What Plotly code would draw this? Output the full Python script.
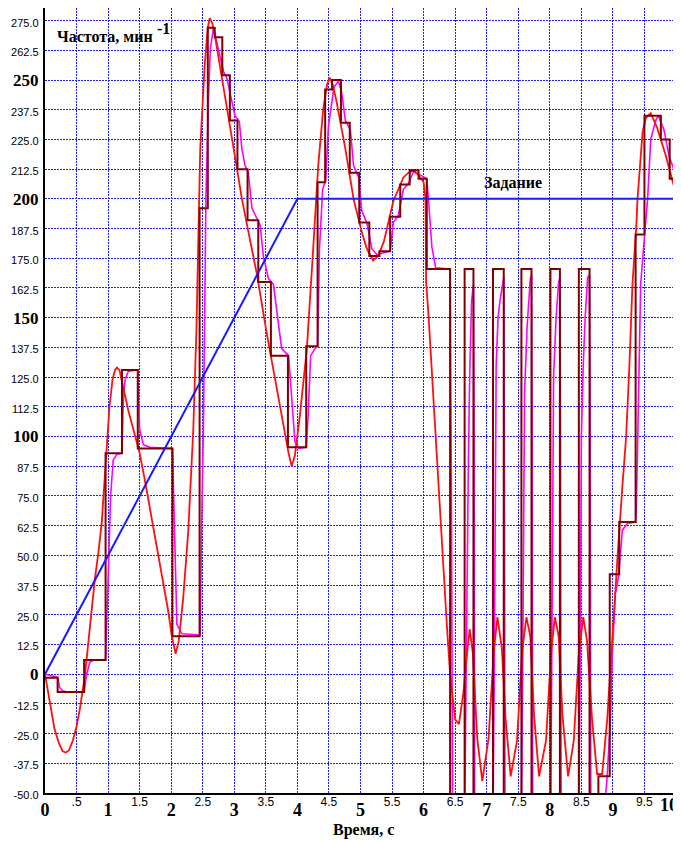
import plotly.graph_objects as go

# ---------------- data ----------------
# set-point ("Задание")
setpoint_t = [0, 4, 10]
setpoint_v = [0, 200, 200]

# fast response (red)
red_t = [0, 0.04, 0.09, 0.15, 0.22, 0.28, 0.33, 0.38, 0.44, 0.50, 0.55, 0.60, 0.63, 0.67, 0.71, 0.79,
         0.85, 0.90, 0.94, 0.97, 1.02, 1.07, 1.11, 1.14, 1.18, 1.23, 1.32, 1.41, 1.50, 1.58, 1.66,
         1.74, 1.82, 1.89, 1.95, 2.01, 2.07, 2.12, 2.19, 2.27, 2.32, 2.35, 2.40, 2.46, 2.53, 2.58,
         2.61, 2.65, 2.69, 2.80, 2.90, 3.01, 3.12, 3.25, 3.36, 3.51, 3.65, 3.78, 3.86, 3.91, 3.96,
         4.04, 4.15, 4.25, 4.33, 4.41, 4.47, 4.51, 4.56, 4.62, 4.76, 4.89, 5.02, 5.10, 5.20, 5.28,
         5.37, 5.52, 5.68, 5.76, 5.84, 5.92, 6.00, 6.03, 6.04, 6.08, 6.12, 6.16, 6.21, 6.27, 6.32,
         6.37, 6.42, 6.50, 6.56, 6.63, 6.69, 6.73, 6.78, 6.85, 6.93, 7.03, 7.11, 7.17, 7.24, 7.30,
         7.38, 7.48, 7.56, 7.63, 7.69, 7.75, 7.83, 7.94, 8.02, 8.08, 8.14, 8.20, 8.29, 8.38, 8.46,
         8.53, 8.59, 8.67, 8.75, 8.83, 8.91, 8.99, 9.07, 9.15, 9.21, 9.26, 9.31, 9.37, 9.39, 9.47,
         9.52, 9.60, 9.70, 9.84, 9.97, 10.0]
red_v = [0, -6, -15, -23, -29, -32.5, -33, -32, -28, -22, -15, -6, -1, 9, 20, 40,
         52, 64, 80, 93, 112, 124, 128, 129, 128, 122, 111, 102, 93, 82, 70,
         58, 46, 36, 27, 16, 8.6, 14, 32, 60, 85, 103, 145, 221, 256, 272,
         276, 274, 269, 252, 235, 218, 200, 182, 168, 144, 123, 105, 93, 87.5, 92,
         109, 137, 179, 214, 238, 248, 251, 248, 241, 221, 200, 186, 179, 174, 176,
         182, 199, 209, 211, 212, 210, 207, 200, 165, 150, 132, 110, 90, 61, 40,
         20, 0, -19, -21, -8, 9, 19, 9, -27, -45, -27, 9, 24, 11, -19,
         -43, -28, 9, 24, 16, -17, -43, -28, 9, 24, 16, -17, -43, -28, 9,
         24, 14, -19, -42, -42, -19, 16, 48, 79, 100, 129, 164, 188, 200, 228,
         234, 236, 230, 218, 205, 202]

# sampled (held) signal (dark red steps)
step_t = [0, 0.20, 0.62, 0.96, 1.22, 1.47, 2.02, 2.45, 2.58, 2.69, 2.81, 2.93, 3.05, 3.21, 3.38,
          3.58, 3.85, 4.14, 4.32, 4.44, 4.55, 4.69, 4.83, 4.98, 5.14, 5.30, 5.47, 5.63, 5.78,
          5.92, 6.05, 6.42, 6.65, 6.79, 7.10, 7.27, 7.55, 7.71, 8.01, 8.16, 8.46, 8.63, 8.77,
          8.95, 9.10, 9.36, 9.50, 9.76, 9.90, 10.0]
step_v = [-1.5, -7.5, 6, 93, 128, 95, 16, 196, 272, 268, 252, 233, 212.5, 191, 165,
          134, 95.5, 138, 207, 246, 250, 232, 211, 190, 176, 178, 192.5, 206, 212,
          208.5, 170.5, -60, 170.5, -60, 170.5, -60, 170.5, -60, 170.5, -60, 170.5, -60, -43,
          42, 64, 185, 235, 225, 208.5, 208.5]

# lagged response (magenta)
mag_t = [0, 0.20, 0.23, 0.28, 0.35, 0.62, 0.66, 0.71, 0.78, 0.96, 1.00, 1.04, 1.08, 1.14, 1.22,
         1.24, 1.27, 1.32, 1.47, 1.50, 1.56, 1.66, 2.02, 2.06, 2.09, 2.17, 2.46, 2.48, 2.51,
         2.53, 2.55, 2.59, 2.62, 2.67, 2.75, 2.83, 2.88, 2.94, 3.01, 3.08, 3.12, 3.17, 3.22,
         3.28, 3.36, 3.41, 3.46, 3.54, 3.62, 3.68, 3.75, 3.86, 3.91, 3.96, 4.02, 4.14, 4.17,
         4.21, 4.28, 4.32, 4.35, 4.40, 4.45, 4.49, 4.52, 4.58, 4.65, 4.70, 4.76, 4.84, 4.89,
         4.97, 5.02, 5.10, 5.18, 5.26, 5.47, 5.52, 5.60, 5.68, 5.76, 5.84, 5.95, 6.05, 6.08,
         6.13, 6.19, 6.42, 6.44, 6.46,
         6.65, 6.67, 6.69, 6.70, 6.71, 6.73, 6.76, 6.79, 6.80, 6.81,
         7.10, 7.12, 7.13, 7.14, 7.15, 7.18, 7.21, 7.27, 7.28, 7.29,
         7.55, 7.57, 7.58, 7.59, 7.60, 7.64, 7.69, 7.71, 7.72, 7.73,
         8.01, 8.03, 8.04, 8.05, 8.06, 8.10, 8.14, 8.16, 8.17, 8.18,
         8.46, 8.48, 8.49, 8.50, 8.53, 8.56, 8.60, 8.63, 8.64, 8.65,
         8.86, 8.91, 8.96, 8.99, 9.04, 9.09, 9.15, 9.23, 9.36, 9.37, 9.39, 9.44, 9.50, 9.55,
         9.60, 9.68, 9.72, 9.81, 9.89, 9.97, 10.0]
mag_v = [0, -1.3, -5.5, -7, -7.5, -7.5, 0, 5, 6, 6, 40, 75, 90, 92.5, 93,
         115, 124, 127.5, 128, 103, 96.5, 95.5, 95, 46, 21, 17, 16.5, 60, 103,
         150, 200, 242, 263, 272, 263, 253.5, 251, 244, 235, 232.5, 221, 214, 211.5,
         196, 192, 189, 176, 166.5, 164, 151, 137, 134, 116, 98, 95, 95.5, 109,
         134, 137, 138, 179, 204, 208, 230, 236, 247, 249.5, 245, 233, 229, 214,
         209, 195, 190, 179, 176.5, 178, 190, 193, 204, 206.5, 211.5, 210, 208.5, 199,
         180, 171, 170.5, 80, -60,
         -60, 0, 30, 60, 90, 125, 157, 164, 100, -60,
         -60, 0, 40, 90, 130, 150, 157, 167, 100, -60,
         -60, 0, 60, 100, 118, 146, 166, 168, 100, -60,
         -60, 0, 60, 100, 125, 150, 165, 167, 100, -60,
         -60, 0, 60, 100, 130, 150, 167, 168, 100, -60,
         -60, -42.6, -19.4, 8.6, 34, 41, 60.6, 63.4, 64, 69, 94, 164, 184, 200,
         225, 233, 235, 229, 218, 212, 211]

# ticks
x_grid_vals = [i * 0.5 for i in range(21)]
x_big_vals = [0, 1, 2, 3, 4, 5, 6, 7, 8, 9]
x_big_text = ["0", "1", "2", "3", "4", "5", "6", "7", "8", "9"]
x_end_vals = [10]
x_end_text = ["10"]
x_small_vals = [0.5, 1.5, 2.5, 3.5, 4.5, 5.5, 6.5, 7.5, 8.5, 9.5]
x_small_text = [".5", "1.5", "2.5", "3.5", "4.5", "5.5", "6.5", "7.5", "8.5", "9.5"]
y_tick_vals = [-50 + 12.5 * i for i in range(27)]
y_tick_labels = ["-50.0", "-37.5", "-25.0", "-12.5", "0", "12.5", "25.0", "37.5", "50.0",
                 "62.5", "75.0", "87.5", "100", "112.5", "125.0", "137.5", "150", "162.5",
                 "175.0", "187.5", "200", "212.5", "225.0", "237.5", "250", "262.5", "275.0"]
y_bold_labels = ["0", "100", "150", "200", "250"]

# ---------------- styling ----------------
SMALL_Y = "font-family:'Liberation Sans';font-size:11px;font-weight:normal"

y_text = [("<b>" + s + "</b>") if s in y_bold_labels
          else "<span style=\"%s\">%s</span>" % (SMALL_Y, s) for s in y_tick_labels]

big_map = {v: "<b>" + s + "</b>" for v, s in zip(x_big_vals, x_big_text)}
x_main_text = [big_map.get(v, "") for v in x_grid_vals]

fig = go.Figure()
# magenta and red on the main axes, steps on x2 (small half-second labels),
# set-point on x3 (end label "10") -> same ranges, so identical placement
fig.add_trace(go.Scatter(x=mag_t, y=mag_v, mode="lines",
                         line=dict(color="#ff00ff", width=1.6), hoverinfo="skip"))
fig.add_trace(go.Scatter(x=red_t, y=red_v, mode="lines",
                         line=dict(color="#ff1010", width=1.8), hoverinfo="skip"))
fig.add_trace(go.Scatter(x=step_t, y=step_v, mode="lines", line_shape="hv", xaxis="x2",
                         line=dict(color="#800000", width=2), hoverinfo="skip"))
fig.add_trace(go.Scatter(x=setpoint_t, y=setpoint_v, mode="lines", xaxis="x3",
                         line=dict(color="#1a1aff", width=2), hoverinfo="skip"))

# the page body has an 8px margin, so the figure is sized/offset to compensate
GRID = "rgb(30,30,255)"
BIG_FONT = dict(family="Liberation Serif", size=18, color="black", weight="bold")
fig.update_layout(
    width=673, height=833,
    margin=dict(l=37, r=5, t=0, b=47.5, autoexpand=False),
    paper_bgcolor="white", plot_bgcolor="white",
    showlegend=False,
    font=dict(family="Liberation Serif", color="black"),
    xaxis=dict(range=[0, 10], tickmode="array", tickvals=x_grid_vals, ticktext=x_main_text,
               showgrid=True, gridcolor=GRID, gridwidth=1, griddash="2px,1px",
               showline=True, linecolor="black", linewidth=2, zeroline=False,
               ticks="", ticklabelstandoff=-1, automargin=False,
               tickfont=BIG_FONT),
    xaxis2=dict(range=[0, 10], overlaying="x", anchor="y", side="bottom",
                tickmode="array", tickvals=x_small_vals, ticktext=x_small_text,
                showgrid=False, showline=False, zeroline=False, ticks="",
                ticklabelstandoff=0, automargin=False,
                tickfont=dict(family="Liberation Sans", size=12, color="black")),
    xaxis3=dict(range=[0, 10], overlaying="x", anchor="y", side="bottom",
                tickmode="array", tickvals=x_end_vals, ticktext=x_end_text,
                showgrid=False, showline=False, zeroline=False, ticks="",
                ticklabelstandoff=-1, ticklabelshift=-7, ticklabeloverflow="allow",
                automargin=False, tickfont=BIG_FONT),
    yaxis=dict(range=[-50, 280.3], tickmode="array", tickvals=y_tick_vals, ticktext=y_text,
               showgrid=True, gridcolor=GRID, gridwidth=1, griddash="2px,1px",
               showline=True, mirror=True, linecolor="black", linewidth=2, zeroline=False,
               ticks="", ticklabelstandoff=1, automargin=False,
               tickfont=dict(family="Liberation Serif", size=17, color="black")),
)

TITLE_FONT = dict(family="Liberation Serif", size=16, color="black", weight="bold")
fig.add_annotation(x=0.155, y=268.1, xref="x", yref="y", text="Частота, мин",
                   showarrow=False, xanchor="left", yanchor="middle", font=TITLE_FONT)
fig.add_annotation(x=1.74, y=271.7, xref="x", yref="y", text="-1",
                   showarrow=False, xanchor="left", yanchor="middle", font=TITLE_FONT)
fig.add_annotation(x=7.42, y=207, xref="x", yref="y", text="Задание",
                   showarrow=False, xanchor="center", yanchor="middle", font=TITLE_FONT)
fig.add_annotation(x=0.5055, y=-0.0465, xref="paper", yref="paper", text="Время, с",
                   showarrow=False, xanchor="center", yanchor="middle", font=TITLE_FONT)

fig.write_html("out.html")
